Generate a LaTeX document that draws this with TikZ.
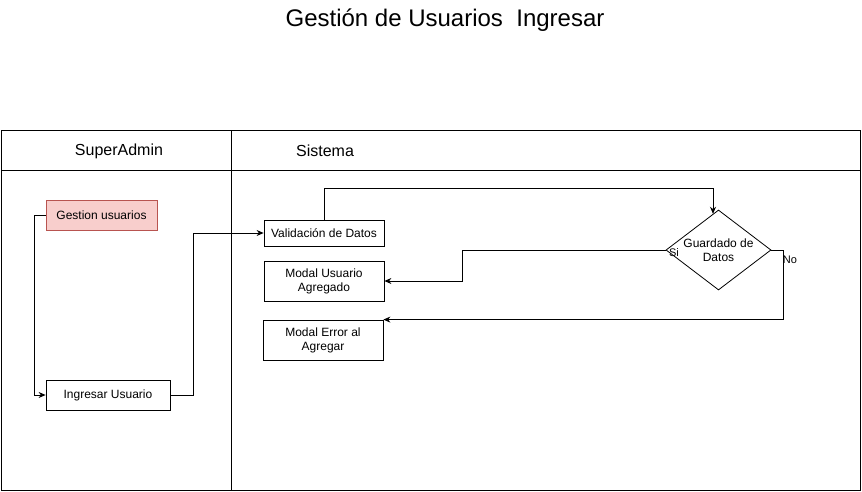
\documentclass[tikz,border=0pt]{standalone}
\usepackage{fontspec}
\setmainfont{Liberation Sans}
\usetikzlibrary{arrows.meta,shapes.geometric}
\definecolor{actfill}{HTML}{F8CECC}
\definecolor{actdraw}{HTML}{B85450}
\begin{document}
\begin{tikzpicture}[x=1pt,y=1pt,line width=0.8pt,
    box/.style={draw,rectangle,inner sep=0pt,font=\fontsize{12}{14}\selectfont,align=center},
    flow/.style={-{Stealth[length=7pt,width=6pt]}},
    lane/.style={font=\fontsize{16}{18}\selectfont}]
            \useasboundingbox (0,0) rectangle (862,491);
            \node[font=\fontsize{24}{28}\selectfont] (title) at (445,471) {Gestión de Usuarios~~Ingresar};
            % lanes
            \draw (1,1) rectangle (860,361);
            \draw (1,321) -- (860,321);
            \draw (231,1) -- (231,361);
            \node[lane] (superadmin) at (119,340) {SuperAdmin};
            \node[lane] (sistema) at (325,340) {Sistema};
            % nodes
            \node[box,fill=actfill,draw=actdraw,minimum width=111pt,minimum height=30pt] (gest) at (101.5,276) {Gestion usuarios};
            \node[box,minimum width=124pt,minimum height=30pt] (ing) at (108,96) {Ingresar Usuario};
            \node[box,minimum width=120pt,minimum height=26pt] (val) at (324,258) {Validación de Datos};
            \node[box,minimum width=120pt,minimum height=40pt] (mua) at (324,210) {Modal Usuario\\Agregado};
            \node[box,minimum width=120pt,minimum height=40pt] (mea) at (323,151) {Modal Error al\\Agregar};
            \node[draw,diamond,minimum width=105pt,minimum height=80pt,inner sep=0pt] (dec) at (718.5,241) {};
            \node[font=\fontsize{12}{14}\selectfont,align=center] (decTxt) at (dec) {Guardado de\\Datos};
            \coordinate (decIn) at ([xshift=-5.5pt,yshift=-4.2pt]dec.north);
            % connectors
            \draw[flow] (gest.west) -- ++(-11,0) |- (ing.west);
            \draw[flow] (ing.east) -- ++(23,0) |- (val.west);
            \draw[flow] (val.north) -- ++(0,31) -| (decIn);
            \draw[flow] (dec.west) -- ++(-203,0) |- (mua.east);
            \draw[flow] (dec.east) -- ++(12,0) |- (mea.north east);
            \node[font=\fontsize{11}{13}\selectfont] (si) at (674,238) {Si};
            \node[font=\fontsize{11}{13}\selectfont] (no) at (790,231) {No};
        \end{tikzpicture}
\end{document}
